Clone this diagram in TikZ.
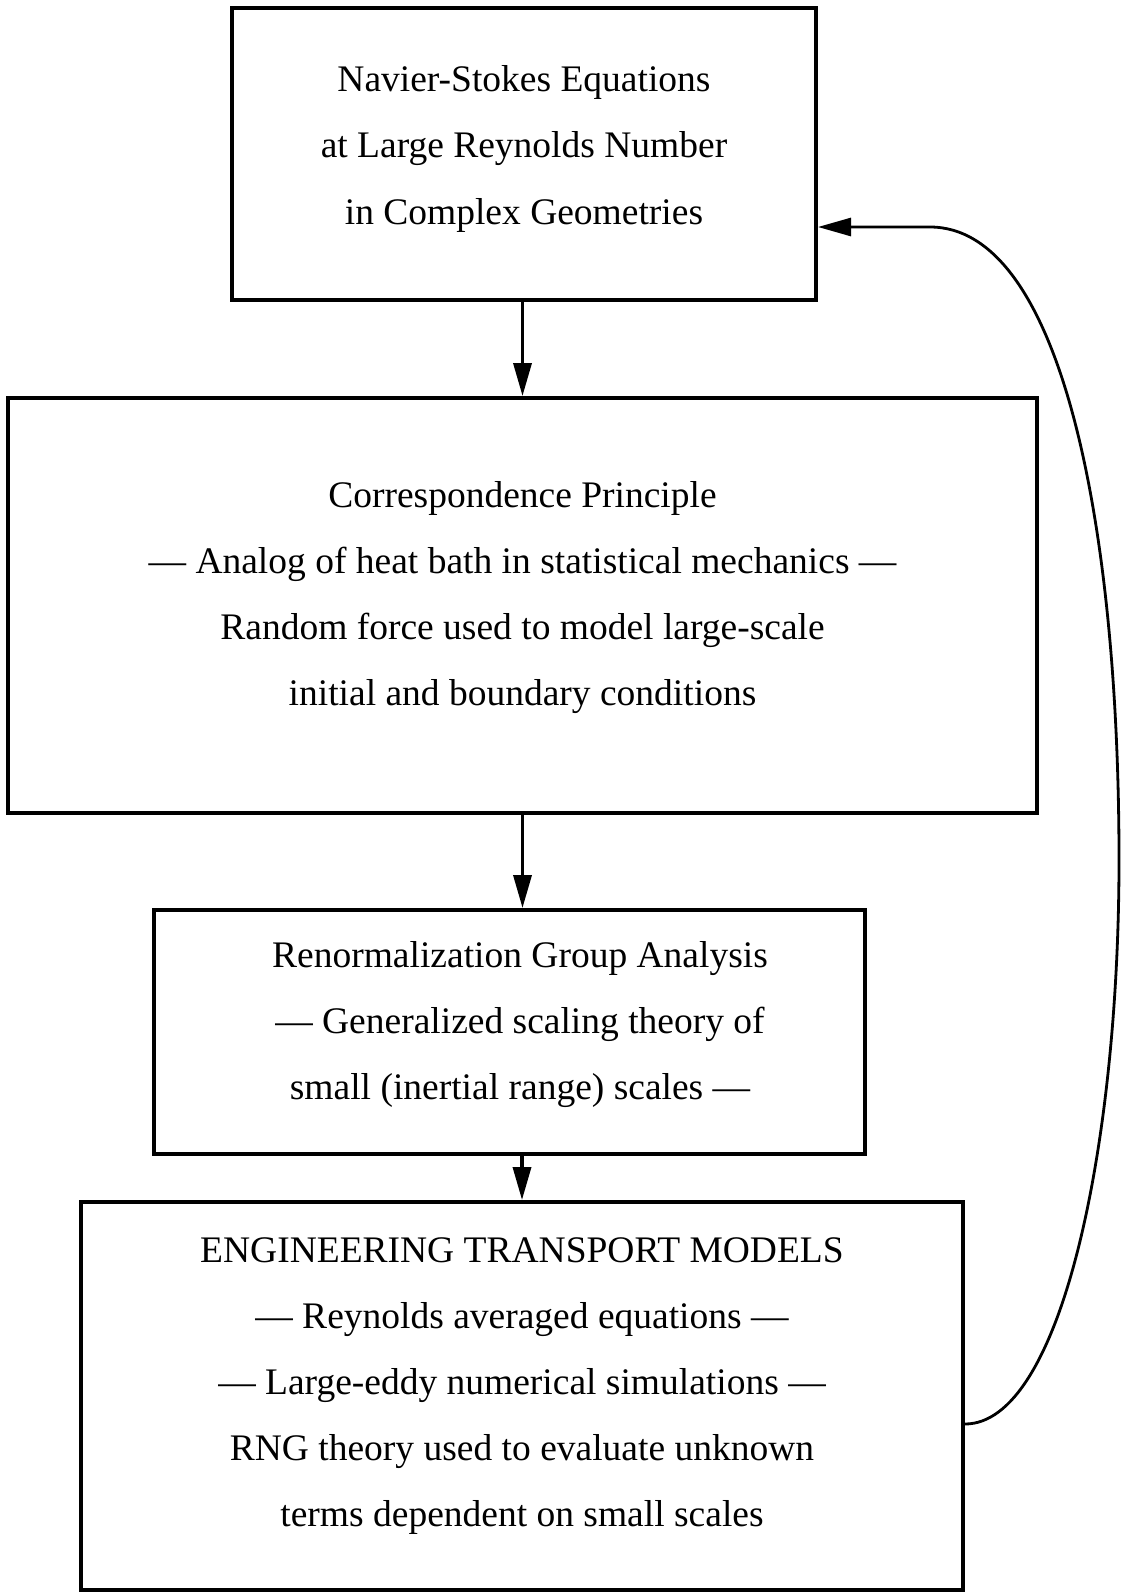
\documentclass[tikz,border=0pt]{standalone}
\usepackage{fontspec}
\setmainfont{Liberation Serif}
\usetikzlibrary{arrows.meta}
\newcommand{\bxtext}[3][0pt]{\hspace*{#1}\raisebox{#2}[\height][\depth]{\begin{tabular}{@{}c@{}}#3\end{tabular}}}
\begin{document}
\begin{tikzpicture}[x=1pt,y=-1pt,
  box/.style={draw, line width=4pt, rectangle, inner sep=0pt,
    font=\fontsize{37.5}{66}\selectfont},
  flow/.style={-{Triangle[length=33pt,width=18pt]}, line width=3.5pt},
  feedback/.style={-{Triangle[length=33pt,width=18pt]}, line width=2.8pt}]
\useasboundingbox (0,0) rectangle (1121,1592);

\node[box, minimum width=584pt, minimum height=292pt] (b1) at (524,154)
  {\bxtext{9.2pt}{Navier-Stokes Equations\\at Large Reynolds Number\\in Complex Geometries}};

\node[box, minimum width=1029pt, minimum height=415pt] (b2) at (522.5,605.5)
  {\bxtext{12pt}{Correspondence Principle\\
   \textemdash{} Analog of heat bath in statistical mechanics \textemdash\\
   Random force used to model large-scale\\
   initial and boundary conditions}};

\node[box, minimum width=711pt, minimum height=244pt] (b3) at (509.5,1032)
  {\bxtext[21pt]{12pt}{Renormalization Group Analysis\\
   \textemdash{} Generalized scaling theory of\\
   small (inertial range) scales \textemdash}};

\node[box, minimum width=882pt, minimum height=388pt] (b4) at (522,1396)
  {\bxtext{15pt}{ENGINEERING TRANSPORT MODELS\\
   \textemdash{} Reynolds averaged equations \textemdash\\
   \textemdash{} Large-eddy numerical simulations \textemdash\\
   RNG theory used to evaluate unknown\\
   terms dependent on small scales}};

\draw[flow] (b1.south -| b2.north) -- (b2.north);
\draw[flow] (b2.south) -- (b2.south |- b3.north);
\draw[flow] (b4.north |- b3.south) -- (b4.north);

\coordinate (cs) at ([yshift=-28pt]b4.east);
\coordinate (ce) at ([yshift=-73pt]b1.east);
\draw[feedback] (cs) .. controls (1060,1424) and (1119,1150) .. (1119,860)
  .. controls (1119,520) and (1060,227) .. (930,227) -- (ce);
\end{tikzpicture}
\end{document}
